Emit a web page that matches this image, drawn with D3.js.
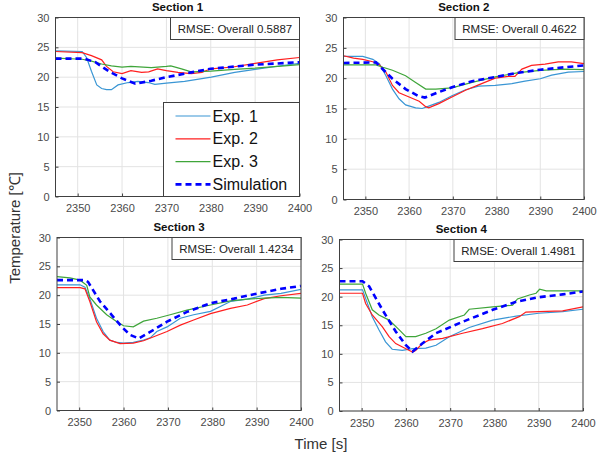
<!DOCTYPE html>
<html>
<head>
<meta charset="utf-8">
<script src="https://cdn.jsdelivr.net/npm/d3@7"></script>
<style>
  body { margin: 0; background: #fff; }
  svg { font-family: "Liberation Sans", Arial, sans-serif; }
</style>
</head>
<body>
<svg width="597" height="459"></svg>
<script>
// tick values
const timeTicks = [2350, 2360, 2370, 2380, 2390, 2400];
const tempTicks = [0, 5, 10, 15, 20, 25, 30];
const seriesNames = ['Exp. 1', 'Exp. 2', 'Exp. 3', 'Simulation'];
const sectionTitles = ['Section 1', 'Section 2', 'Section 3', 'Section 4'];
const rmseValues = ['0.5887', '0.4622', '1.4234', '1.4981'];

// [time, temperature]
const s1Exp1 = [[2345,24.4],[2351,24.3],[2352,23.3],[2353.1,21],[2354.3,18.7],[2355.4,18.1],[2356.5,17.9],[2357.6,17.9],[2359.1,18.7],[2361.4,19.1],[2363.6,19.3],[2365.9,19.1],[2367.4,18.8],[2370,19],[2374.1,19.3],[2380.1,20],[2385.4,20.8],[2390,21.3],[2396.6,22],[2400,22.3]];
const s1Exp2 = [[2345,24.3],[2351,24.1],[2353.1,23.6],[2355.4,22.9],[2356.5,21.8],[2358,20.9],[2360,20.6],[2362,21.1],[2364.4,20.8],[2366,20.9],[2368,21.4],[2370,21.1],[2372.6,20.8],[2375.6,20.6],[2378,20.8],[2380,21.4],[2385,21.7],[2390,22.3],[2395,22.9],[2400,23.3]];
const s1Exp3 = [[2345,23.2],[2351,23],[2353.1,22.7],[2355.4,22.2],[2357.6,21.9],[2360,21.7],[2362,21.8],[2366.6,21.6],[2370,21.8],[2371,21.9],[2373.4,21.4],[2375.6,20.9],[2380,21],[2385.4,21.3],[2390,21.5],[2396.6,21.9],[2400,22.1]];
const s1Sim = [[2345,23.1],[2351.5,23.1],[2354,22.5],[2357,21],[2360,19.8],[2363,18.9],[2366.6,19.4],[2370,20],[2375.6,20.8],[2380,21.4],[2390,22.1],[2400,22.5]];

const s2Exp1 = [[2345,23.6],[2349.4,23.6],[2351.7,23.1],[2353.2,22.4],[2354.7,20.4],[2356.2,18.2],[2357.7,16.6],[2359.2,15.6],[2361.5,15.1],[2363,15],[2364.5,15.4],[2366.8,16],[2369.8,17.1],[2372.9,18.1],[2375.9,18.7],[2379.7,18.8],[2383.5,19.1],[2386.5,19.5],[2390,19.9],[2392.6,20.5],[2396.4,21],[2400,21.1]];
const s2Exp2 = [[2345,23.7],[2347.3,23.3],[2349.4,23.1],[2351.7,22.7],[2353.2,22.2],[2354.7,21],[2356.2,18.8],[2357.7,17.6],[2360,16.9],[2362.3,16.2],[2363.8,15.3],[2364.5,15.1],[2366.8,15.8],[2369.8,16.9],[2372.9,18],[2375.9,18.9],[2379.7,20],[2382.7,20.3],[2384.2,20.3],[2385.8,21.5],[2388,22.1],[2391.1,22.3],[2394.1,22.7],[2397.1,22.7],[2400,22.4]];
const s2Exp3 = [[2345,22.2],[2352.4,22.2],[2354,21.8],[2356.2,21.3],[2359.2,20.4],[2361.5,19.3],[2363.8,18.2],[2366.1,18.2],[2369.8,18.4],[2374.4,19.3],[2379.7,20.2],[2385,20.9],[2390,21.3],[2395.6,21.5],[2400,21.4]];
const s2Sim = [[2345,22.5],[2352.4,22.6],[2356.2,19.9],[2359.2,18.2],[2362,17.1],[2363.6,16.8],[2366.8,17.7],[2369.8,18.5],[2374.4,19.5],[2379.7,20.2],[2385,20.9],[2390,21.4],[2395.6,21.8],[2400,22.1]];

const s3Exp1 = [[2345,21.8],[2350.2,21.8],[2351.3,21.4],[2352.4,19.4],[2353.9,16],[2355.4,13.7],[2356.9,12.2],[2358.5,11.8],[2360,11.7],[2362.2,11.8],[2364.5,12.2],[2366,12.6],[2367.5,13.7],[2369.8,14.5],[2372.8,16],[2375.8,16.6],[2379.6,17.2],[2384.1,18.9],[2387.9,19.3],[2391.7,20],[2395.5,20.3],[2400,21]];
const s3Exp2 = [[2345,21.3],[2350.2,21.3],[2351.3,21.1],[2352.4,18.9],[2353.9,15.4],[2355.4,13.3],[2356.9,12.2],[2359.2,11.6],[2362.2,11.7],[2364.5,12.1],[2366.8,12.8],[2369.8,13.7],[2372.8,14.8],[2375.8,15.7],[2379.6,16.8],[2384.1,17.7],[2387.9,18.3],[2391.7,19.4],[2395.5,19.9],[2400,20.3]];
const s3Exp3 = [[2345,23.2],[2347.9,23],[2350.2,22.6],[2351.7,21.7],[2352.4,19.7],[2353.9,18.3],[2356.2,16.6],[2358.5,15.4],[2360,14.7],[2362.2,14.5],[2364.5,15.5],[2367.5,16],[2370.5,16.6],[2374.3,17.4],[2379.6,18.3],[2384.1,19],[2387.9,19.3],[2391.7,19.5],[2395.5,19.6],[2400,19.5]];
const s3Sim = [[2345,22.6],[2351.3,22.6],[2352,22.3],[2354.7,18.9],[2357.3,16.6],[2359.6,14.5],[2361.5,13.1],[2363.4,12.5],[2366.8,14],[2369.8,15.4],[2374.3,17.1],[2379.6,18.6],[2384.9,19.4],[2390.2,20.3],[2395.5,21.1],[2400,21.6]];

const s4Exp1 = [[2345,21.2],[2350.2,21.2],[2350.9,19.7],[2352.4,16.5],[2353.9,14.2],[2355.4,12.1],[2356.9,10.8],[2359.2,10.6],[2361.5,10.9],[2364.5,11],[2366.8,11.5],[2369.8,13],[2374.3,14.6],[2379.6,15.9],[2384.9,16.6],[2390,17.1],[2395.4,17.4],[2400,17.8]];
const s4Exp2 = [[2345,20.6],[2350.2,20.6],[2350.9,18.8],[2352.4,16.8],[2354.7,14.7],[2356.2,13],[2357.7,11.8],[2360,10.9],[2361.5,10.3],[2362.2,10.6],[2363.7,11.8],[2365.2,12.4],[2368.3,12.7],[2372.8,13.6],[2377.3,14.4],[2381.8,15.3],[2385.6,16.5],[2387.1,17.3],[2390,17.4],[2395.4,17.5],[2400,18.2]];
const s4Exp3 = [[2345,22.2],[2350.2,22.2],[2350.9,20.6],[2352.4,17.7],[2353.9,16.8],[2356.2,15.9],[2358.5,14.2],[2360,13],[2362.2,13],[2364.5,13.6],[2366.8,14.4],[2369.8,15.9],[2373.2,16.8],[2374.3,17.8],[2379.6,18.2],[2384.1,18.5],[2385.2,19.6],[2387.9,20.3],[2389.4,20.6],[2390.2,21.3],[2391.7,21],[2395.4,21],[2400,21]];
const s4Sim = [[2345,22.7],[2350.2,22.7],[2351.7,21.8],[2354.7,17.7],[2357.7,13.9],[2360,11.5],[2361.5,10.4],[2363.7,11.8],[2366.8,13.6],[2372.8,15.6],[2379.6,17.7],[2384.9,19.1],[2390,19.9],[2395.4,20.4],[2400,20.9]];

const sectionData = [
  [s1Exp1, s1Exp2, s1Exp3, s1Sim],
  [s2Exp1, s2Exp2, s2Exp3, s2Sim],
  [s3Exp1, s3Exp2, s3Exp3, s3Sim],
  [s4Exp1, s4Exp2, s4Exp3, s4Sim]
];

const colors = ['#3a96d4', '#ff1f1f', '#3fa53a', '#0000ff'];
const widths = [1.2, 1.2, 1.2, 2.6];
const dashes = [null, null, null, '6,4'];

// axes boxes in pixels
const panels = [
  { x0: 55.5, x1: 299.5, y0: 17.5, y1: 196.5 },
  { x0: 343.5, x1: 584, y0: 17.5, y1: 199.5 },
  { x0: 57, x1: 301, y0: 237.5, y1: 410.5 },
  { x0: 339.5, x1: 583, y0: 239.5, y1: 411 }
];

const svg = d3.select('svg');
const axisColor = '#404040';

panels.forEach((p, i) => {
  const x = d3.scaleLinear().domain([2345, 2400]).range([p.x0, p.x1]);
  const y = d3.scaleLinear().domain([0, 30]).range([p.y1, p.y0]);
  const g = svg.append('g');

  g.append('rect')
    .attr('x', p.x0).attr('y', p.y0)
    .attr('width', p.x1 - p.x0).attr('height', p.y1 - p.y0)
    .attr('fill', '#fff');

  // grid
  g.selectAll('.vg').data(timeTicks).enter().append('line')
    .attr('x1', d => x(d)).attr('x2', d => x(d))
    .attr('y1', p.y0).attr('y2', p.y1)
    .attr('stroke', '#e3e3e3').attr('stroke-width', 1);
  g.selectAll('.hg').data(tempTicks).enter().append('line')
    .attr('y1', d => y(d)).attr('y2', d => y(d))
    .attr('x1', p.x0).attr('x2', p.x1)
    .attr('stroke', '#e3e3e3').attr('stroke-width', 1);

  // curves, clipped to the axes
  const clipId = 'clip' + i;
  svg.append('clipPath').attr('id', clipId).append('rect')
    .attr('x', p.x0).attr('y', p.y0)
    .attr('width', p.x1 - p.x0).attr('height', p.y1 - p.y0);

  const line = d3.line().x(d => x(d[0])).y(d => y(d[1]));
  sectionData[i].forEach((s, k) => {
    g.append('path')
      .datum(s)
      .attr('clip-path', 'url(#' + clipId + ')')
      .attr('d', line)
      .attr('fill', 'none')
      .attr('stroke', colors[k])
      .attr('stroke-width', widths[k])
      .attr('stroke-dasharray', dashes[k]);
  });

  // axes
  const xAxis = g.append('g')
    .attr('transform', 'translate(0,' + p.y1 + ')')
    .call(d3.axisBottom(x).tickValues(timeTicks).tickFormat(d3.format('d'))
      .tickSizeInner(-3).tickSizeOuter(0).tickPadding(8));
  const yAxis = g.append('g')
    .attr('transform', 'translate(' + p.x0 + ',0)')
    .call(d3.axisLeft(y).tickValues(tempTicks).tickSizeInner(-3).tickSizeOuter(0).tickPadding(6));
  [xAxis, yAxis].forEach(a => {
    a.select('.domain').remove();
    a.selectAll('line').attr('stroke', axisColor);
    a.selectAll('text').attr('fill', '#4a4a4a').style('font-size', '11px')
      .style('font-family', '"Liberation Sans", Arial, sans-serif');
  });

  // box
  g.append('rect')
    .attr('x', p.x0).attr('y', p.y0)
    .attr('width', p.x1 - p.x0).attr('height', p.y1 - p.y0)
    .attr('fill', 'none').attr('stroke', axisColor).attr('stroke-width', 1);

  // title
  g.append('text')
    .attr('x', (p.x0 + p.x1) / 2).attr('y', p.y0 - 6.5)
    .attr('text-anchor', 'middle')
    .style('font-size', '11.5px').style('font-weight', 'bold')
    .attr('fill', '#111')
    .text(sectionTitles[i]);

  // RMSE box
  const bw = 129, bh = 22;
  g.append('rect')
    .attr('x', p.x1 - bw).attr('y', p.y0)
    .attr('width', bw).attr('height', bh)
    .attr('fill', '#fff').attr('stroke', axisColor).attr('stroke-width', 1);
  g.append('text')
    .attr('x', p.x1 - bw / 2).attr('y', p.y0 + bh / 2 + 4)
    .attr('text-anchor', 'middle')
    .style('font-size', '11.5px').attr('fill', '#222')
    .text('RMSE: Overall ' + rmseValues[i]);
});

// legend in section 1
const lp = panels[0];
const lg = svg.append('g');
const lw = 136, lh = 94;
lg.append('rect')
  .attr('x', lp.x1 - lw).attr('y', lp.y1 - lh)
  .attr('width', lw).attr('height', lh)
  .attr('fill', '#fff').attr('stroke', axisColor).attr('stroke-width', 1);
seriesNames.forEach((name, k) => {
  const cy = lp.y1 - lh + 13.5 + k * 22.8;
  lg.append('line')
    .attr('x1', lp.x1 - lw + 12).attr('x2', lp.x1 - lw + 47)
    .attr('y1', cy).attr('y2', cy)
    .attr('stroke', colors[k]).attr('stroke-width', widths[k])
    .attr('stroke-dasharray', dashes[k]);
  lg.append('text')
    .attr('x', lp.x1 - lw + 49).attr('y', cy + 5.5)
    .style('font-size', '16px').attr('fill', '#111')
    .text(name);
});

// shared axis labels
svg.append('text')
  .attr('transform', 'translate(20,228) rotate(-90)')
  .attr('text-anchor', 'middle')
  .style('font-size', '15px').attr('fill', '#333')
  .text('Temperature [℃]');
svg.append('text')
  .attr('x', 321).attr('y', 449)
  .attr('text-anchor', 'middle')
  .style('font-size', '15px').attr('fill', '#333')
  .text('Time [s]');
</script>
</body>
</html>
